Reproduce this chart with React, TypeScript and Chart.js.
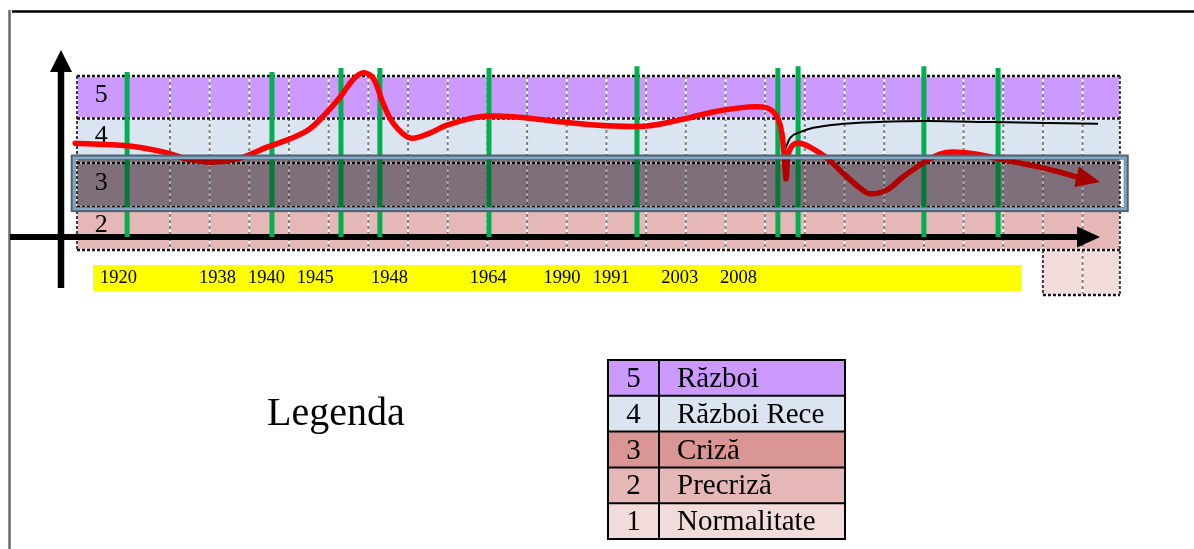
import React, { useEffect, useRef } from "react";
import { Chart, registerables } from "chart.js";
Chart.register(...registerables);

// ---- DATA (u = timeline column, v = crisis level) ----
const redU = [-0.39, 0.92, 1.93, 2.43, 3.09, 3.77, 4.45, 5.03, 5.5, 5.9, 6.29, 6.61, 6.87, 7.12, 7.37, 7.62, 8.05, 8.55, 8.98, 9.81, 10.65, 11.91, 13.17, 14.02, 14.85, 15.69, 16.54, 17.05, 17.3, 17.42, 17.48, 17.53, 17.58, 17.7, 17.88, 18.13, 18.56, 18.96, 19.39, 19.64, 20.07, 20.47, 20.98, 21.41, 21.73, 22.34, 22.92, 24.0, 24.88];
const redV = [3.95, 3.89, 3.73, 3.59, 3.52, 3.61, 3.86, 4.05, 4.26, 4.6, 5.0, 5.39, 5.55, 5.43, 4.86, 4.41, 4.07, 4.18, 4.36, 4.55, 4.55, 4.43, 4.34, 4.34, 4.48, 4.66, 4.77, 4.75, 4.55, 4.18, 3.64, 3.14, 3.68, 3.91, 3.95, 3.86, 3.61, 3.27, 2.93, 2.8, 2.89, 3.18, 3.5, 3.7, 3.75, 3.7, 3.59, 3.39, 3.18];
const redTip = [25.44, 3.07];

const blackU = [17.5, 17.63, 17.88, 18.21, 18.96, 19.82, 21.08, 22.74, 25.39];
const blackV = [3.8, 4.07, 4.2, 4.3, 4.39, 4.43, 4.455, 4.43, 4.39];

const eventU = [0.92, 4.57, 6.31, 7.29, 10.04, 13.77, 17.32, 17.83, 21.0, 22.87];
const eventTop = [5.57, 5.57, 5.66, 5.66, 5.66, 5.7, 5.66, 5.7, 5.7, 5.66];
const axisLevel = 1.82;

const yearLabels = ["1920", "1938", "1940", "1945", "1948", "1964", "1990", "1991", "2003", "2008"];
const yearU = [0.7, 3.2, 4.43, 5.66, 7.53, 10.02, 11.88, 13.12, 14.85, 16.33];

const levelNums = ["5", "4", "3", "2", "1"];
const levelNames = ["Război", "Război Rece", "Criză", "Precriză", "Normalitate"];
const levelColors = ["rgb(204,153,255)", "rgb(219,229,241)", "rgb(217,150,148)", "rgb(229,184,183)", "rgb(242,220,219)"];
const bandColors = ["rgb(204,153,255)", "rgb(219,229,241)", "rgb(183,160,177)", "rgb(229,184,183)", "rgb(242,220,219)"];
const bandTop = [5.5, 4.5, 3.614, 2.455, 1.523];
const bandBottom = [4.5, 3.614, 2.455, 1.523, 0.5];
const bandLabelV = [4.886, 3.955, 2.886, 1.932];
const dottedLevels = [5.477, 4.511, 3.5, 2.5, 1.523];
const gridCols = [2, 3, 4, 5, 6, 7, 8, 9, 10, 11, 12, 13, 14, 15, 16, 17, 18, 19, 20, 21, 22, 23, 24, 25];
const bandLeft = -0.343;
const bandRight = 25.94;
const normalLeft = 24.0;

const FONT = '"Liberation Serif", "Times New Roman", serif';

export default function App() {
  const ref = useRef<HTMLCanvasElement>(null);
  useEffect(() => {
    const canvas = ref.current!;
    const decor = {
      id: "decor",
      beforeDatasetsDraw(chart: any) {
        const ctx = chart.ctx as CanvasRenderingContext2D;
        const X = (u: number) => chart.scales.x.getPixelForValue(u);
        const Y = (v: number) => chart.scales.y.getPixelForValue(v);
        ctx.save();
        ctx.fillStyle = "#fff";
        ctx.fillRect(0, 0, chart.width, chart.height);
        // page frame
        ctx.strokeStyle = "rgb(105,105,105)";
        ctx.lineWidth = 2.5;
        ctx.beginPath(); ctx.moveTo(9.5, 10); ctx.lineTo(9.5, 549); ctx.stroke();
        ctx.strokeStyle = "#000";
        ctx.lineWidth = 2.5;
        ctx.beginPath(); ctx.moveTo(12, 11.5); ctx.lineTo(1194, 11.5); ctx.stroke();
        // bands
        for (let i = 0; i < 4; i++) {
          ctx.fillStyle = bandColors[i];
          ctx.fillRect(X(bandLeft), Y(bandTop[i]), X(bandRight) - X(bandLeft), Y(bandBottom[i]) - Y(bandTop[i]));
        }
        ctx.fillStyle = bandColors[4];
        ctx.fillRect(X(normalLeft), Y(bandTop[4]), X(bandRight) - X(normalLeft), Y(bandBottom[4]) - Y(bandTop[4]));
        const dline = (x1: number, y1: number, x2: number, y2: number, col: string, w: number, dash: number[]) => {
          ctx.setLineDash([]);
          ctx.strokeStyle = "rgba(255,255,255,0.85)";
          ctx.lineWidth = w;
          ctx.beginPath(); ctx.moveTo(x1, y1); ctx.lineTo(x2, y2); ctx.stroke();
          ctx.setLineDash(dash);
          ctx.strokeStyle = col;
          ctx.beginPath(); ctx.moveTo(x1, y1); ctx.lineTo(x2, y2); ctx.stroke();
          ctx.setLineDash([]);
        };
        // vertical grid
        for (const k of gridCols) {
          const bottom = k >= normalLeft ? bandBottom[4] : bandBottom[3];
          dline(X(k), Y(5.477), X(k), Y(bottom), "rgb(125,125,125)", 2, [3, 3]);
        }
        dline(X(bandLeft), Y(5.477), X(bandLeft), Y(1.523), "rgb(60,60,60)", 2, [3, 2]);
        dline(X(bandRight), Y(5.477), X(bandRight), Y(0.5), "rgb(60,60,60)", 2, [3, 2]);
        dline(X(normalLeft), Y(1.523), X(normalLeft), Y(0.5), "rgb(60,60,60)", 2, [3, 2]);
        for (const lv of dottedLevels) {
          dline(X(bandLeft), Y(lv), X(bandRight), Y(lv), "rgb(20,20,20)", 2.3, [3, 2]);
        }
        dline(X(normalLeft), Y(0.5), X(bandRight), Y(0.5), "rgb(20,20,20)", 2.3, [3, 2]);
        // yellow band with years
        ctx.fillStyle = "rgb(255,255,0)";
        ctx.fillRect(X(0.06), Y(1.182), X(23.47) - X(0.06), Y(0.591) - Y(1.182));
        ctx.fillStyle = "#000";
        ctx.font = `18.5px ${FONT}`;
        ctx.textAlign = "center";
        ctx.textBaseline = "alphabetic";
        yearLabels.forEach((t, i) => ctx.fillText(t, X(yearU[i]), Y(0.773)));
        // band digits
        ctx.font = `26px ${FONT}`;
        bandLabelV.forEach((v, i) => ctx.fillText(levelNums[i], X(0.27), Y(v)));
        // axes arrows
        ctx.strokeStyle = "#000";
        ctx.fillStyle = "#000";
        ctx.lineWidth = 6;
        ctx.beginPath(); ctx.moveTo(X(-2.03), Y(axisLevel)); ctx.lineTo(X(24.9), Y(axisLevel)); ctx.stroke();
        ctx.beginPath();
        ctx.moveTo(X(25.44), Y(axisLevel));
        ctx.lineTo(X(24.86), Y(axisLevel) - 10.5);
        ctx.lineTo(X(24.86), Y(axisLevel) + 10.5);
        ctx.closePath(); ctx.fill();
        ctx.lineWidth = 6.5;
        ctx.beginPath(); ctx.moveTo(X(-0.746), Y(0.659)); ctx.lineTo(X(-0.746), Y(5.6)); ctx.stroke();
        ctx.beginPath();
        ctx.moveTo(X(-0.746), Y(6.068));
        ctx.lineTo(X(-0.746) - 11, Y(5.568));
        ctx.lineTo(X(-0.746) + 11, Y(5.568));
        ctx.closePath(); ctx.fill();
        ctx.restore();
      },
      afterDatasetsDraw(chart: any) {
        const ctx = chart.ctx as CanvasRenderingContext2D;
        const X = (u: number) => chart.scales.x.getPixelForValue(u);
        const Y = (v: number) => chart.scales.y.getPixelForValue(v);
        ctx.save();
        // red arrowhead
        const bx = X(redU[redU.length - 1]), by = Y(redV[redV.length - 1]);
        const tx = X(redTip[0]), ty = Y(redTip[1]);
        const ang = Math.atan2(ty - by, tx - bx);
        const len = 24, hw = 10.5;
        const baseX = tx - len * Math.cos(ang), baseY = ty - len * Math.sin(ang);
        ctx.fillStyle = "rgb(235,0,0)";
        ctx.beginPath();
        ctx.moveTo(tx, ty);
        ctx.lineTo(baseX - hw * Math.sin(ang), baseY + hw * Math.cos(ang));
        ctx.lineTo(baseX + hw * Math.sin(ang), baseY - hw * Math.cos(ang));
        ctx.closePath(); ctx.fill();
        // crisis band overlay
        ctx.fillStyle = "rgba(0,0,0,0.3)";
        ctx.fillRect(X(bandLeft), Y(bandTop[2]), X(bandRight) - X(bandLeft), Y(bandBottom[2]) - Y(bandTop[2]));
        // crisis band outline
        const ox1 = X(-0.44), ox2 = X(26.1), oy1 = Y(3.636), oy2 = Y(2.44);
        ctx.strokeStyle = "rgb(80,98,112)";
        ctx.lineWidth = 5;
        ctx.strokeRect(ox1, oy1, ox2 - ox1, oy2 - oy1);
        ctx.strokeStyle = "rgb(128,168,198)";
        ctx.lineWidth = 2.5;
        ctx.strokeRect(ox1 + 0.8, oy1 + 0.8, ox2 - ox1 - 1.6, oy2 - oy1 - 1.6);
        // legend
        ctx.fillStyle = "#000";
        ctx.font = `40px ${FONT}`;
        ctx.textAlign = "left";
        ctx.textBaseline = "alphabetic";
        ctx.fillText("Legenda", 267, 425);
        const tl = 608, tr = 845, tc = 659, tt = 360, rh = 35.8;
        levelNames.forEach((name, i) => {
          const y0 = tt + i * rh;
          ctx.fillStyle = levelColors[i];
          ctx.fillRect(tl, y0, tr - tl, rh);
          ctx.fillStyle = "#000";
          ctx.font = `29px ${FONT}`;
          ctx.textAlign = "center";
          ctx.fillText(levelNums[i], (tl + tc) / 2, y0 + 27);
          ctx.textAlign = "left";
          ctx.fillText(name, 677, y0 + 27);
        });
        ctx.strokeStyle = "#000";
        ctx.lineWidth = 2;
        ctx.strokeRect(tl, tt, tr - tl, rh * 5);
        ctx.beginPath();
        ctx.moveTo(tc, tt); ctx.lineTo(tc, tt + rh * 5);
        for (let i = 1; i < 5; i++) { ctx.moveTo(tl, tt + i * rh); ctx.lineTo(tr, tt + i * rh); }
        ctx.stroke();
        ctx.restore();
      },
    };

    const greenSets = eventU.map((u, i) => ({
      data: [{ x: u, y: axisLevel }, { x: u, y: eventTop[i] }],
      borderColor: "rgb(0,176,80)",
      borderWidth: 5,
      borderCapStyle: "butt",
      pointRadius: 0,
      order: 3,
    }));

    const chart = new Chart(canvas, {
      type: "line",
      data: {
        datasets: [
          {
            data: redU.map((u, i) => ({ x: u, y: redV[i] })),
            borderColor: "rgb(255,0,0)",
            borderWidth: 5.5,
            borderCapStyle: "round",
            borderJoinStyle: "round",
            tension: 0.35,
            pointRadius: 0,
            order: 1,
          },
          {
            data: blackU.map((u, i) => ({ x: u, y: blackV[i] })),
            borderColor: "#000",
            borderWidth: 2,
            cubicInterpolationMode: "monotone",
            pointRadius: 0,
            order: 2,
          },
          ...greenSets,
        ] as any,
      },
      options: {
        animation: false,
        responsive: false,
        maintainAspectRatio: false,
        events: [],
        layout: { padding: 0, autoPadding: false },
        plugins: { legend: { display: false }, tooltip: { enabled: false }, title: { display: false } },
        scales: {
          x: { type: "linear", min: -2.2833, max: 27.8075, display: false },
          y: { type: "linear", min: -5.2727, max: 7.2045, display: false },
        },
      },
      plugins: [decor],
    });
    return () => chart.destroy();
  }, []);

  return (
    <div style={{ position: "absolute", left: 0, top: 0, width: 1194, height: 549 }}>
      <canvas ref={ref} width={1194} height={549} style={{ display: "block", width: 1194, height: 549 }} />
    </div>
  );
}
